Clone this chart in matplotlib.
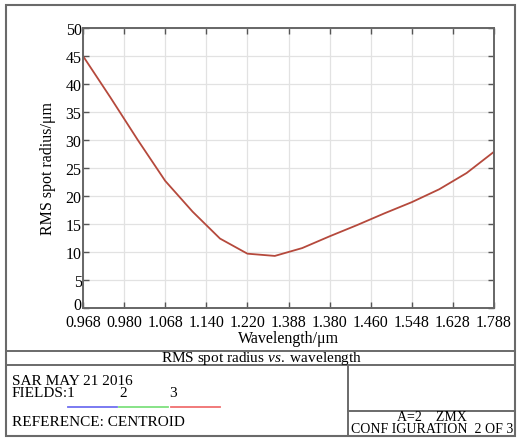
import matplotlib
matplotlib.use("Agg")
from matplotlib import pyplot as plt
from matplotlib.lines import Line2D
from matplotlib.patches import Rectangle
from matplotlib.transforms import ScaledTranslation

# axis tick labels as printed on the chart (not monotonic, so drawn on index positions)
wavelength_labels = ["0.968", "0.980", "1.068", "1.140", "1.220", "1.388",
                     "1.380", "1.460", "1.548", "1.628", "1.788"]
y_ticks = [0, 5, 10, 15, 20, 25, 30, 35, 40, 45, 50]

# sample positions in tick-index units and RMS spot radius (um)
sample_pos = [0, 0.667, 1.333, 2, 2.667, 3.333, 4, 4.667, 5.333,
              6, 6.667, 7.333, 8, 8.667, 9.333, 10]
rms_radius = [45.0, 37.6, 30.0, 22.7, 17.2, 12.4, 9.7, 9.3, 10.7,
              12.8, 14.8, 16.9, 18.9, 21.2, 24.1, 27.9]

field_labels = ["1", "2", "3"]
field_colors = ["#6f6ff0", "#7ee07e", "#f07070"]

W, H = 518, 439
plt.rcParams["font.family"] = ["Liberation Serif", "DejaVu Serif"]
plt.rcParams["mathtext.fontset"] = "custom"
plt.rcParams["mathtext.rm"] = "Liberation Serif"
plt.rcParams["mathtext.it"] = "Liberation Serif:italic"


def fx(px):
    return px / W


def fy(py):
    return 1 - py / H


fig = plt.figure(figsize=(W / 100, H / 100), dpi=100)
fig.patch.set_facecolor("white")

ax = fig.add_axes([fx(83), fy(309), fx(494) - fx(83), fy(29) - fy(309)])
ax.plot(sample_pos, rms_radius, color="#b5493c", lw=1.3)
ax.set_xlim(0, len(wavelength_labels) - 1)
ax.set_ylim(0, 50)
ax.set_xticks(range(len(wavelength_labels)))
ax.set_xticklabels(wavelength_labels)
ax.set_yticks(y_ticks)
ax.grid(True, color="#e2e2e2", lw=0.9)
ax.tick_params(direction="in", length=4, width=1, color="#555555",
               top=True, right=True, labelsize=11.5, pad=1)
ax.tick_params(axis="x", pad=4)
for s in ax.spines.values():
    s.set_color("#666666")
    s.set_linewidth(1.4)
ax.set_xlabel("Wavelength/μm", fontsize=11.5, labelpad=0)
ax.set_ylabel("RMS spot radius/μm", fontsize=11.5, labelpad=7)

# lift the "0" label a little so it sits above the x labels
zero_lbl = ax.get_yticklabels()[0]
zero_lbl.set_transform(zero_lbl.get_transform()
                       + ScaledTranslation(0, 5 / 100, fig.dpi_scale_trans))

# frame and title block
lc = "#6a6a6a"
fig.add_artist(Rectangle((fx(6), fy(437)), fx(515) - fx(6), fy(6) - fy(437),
                         transform=fig.transFigure, fill=False, ec=lc, lw=1.5))
for yy in (352, 366):
    fig.add_artist(Line2D([fx(6), fx(515)], [fy(yy), fy(yy)], color=lc, lw=1.4))
fig.add_artist(Line2D([fx(348), fx(348)], [fy(366), fy(437)], color=lc, lw=1.4))
fig.add_artist(Line2D([fx(348), fx(515)], [fy(412), fy(412)], color=lc, lw=1.4))

fig.text(fx(262), fy(359), r"RMS spot radius $\it{vs.}$ wavelength",
         fontsize=11, ha="center", va="center")

fig.text(fx(12), fy(382), "SAR MAY 21 2016", fontsize=11, va="center")
fig.text(fx(12), fy(394), "FIELDS:" + field_labels[0], fontsize=11, va="center")
fig.text(fx(123), fy(394), field_labels[1], fontsize=11, va="center", ha="center")
fig.text(fx(173), fy(394), field_labels[2], fontsize=11, va="center", ha="center")
seg = [(68, 117), (119, 168), (171, 220)]
for (a, b), c in zip(seg, field_colors):
    fig.add_artist(Line2D([fx(a), fx(b)], [fy(408), fy(408)], color=c, lw=1.3))
fig.text(fx(12), fy(423), "REFERENCE: CENTROID", fontsize=11, va="center")

fig.text(fx(432), fy(418), "A=2    ZMX", fontsize=10, ha="center", va="center")
fig.text(fx(432), fy(430), "CONF IGURATION  2 OF 3", fontsize=10, ha="center", va="center")

fig.savefig("out.png", dpi=100)
